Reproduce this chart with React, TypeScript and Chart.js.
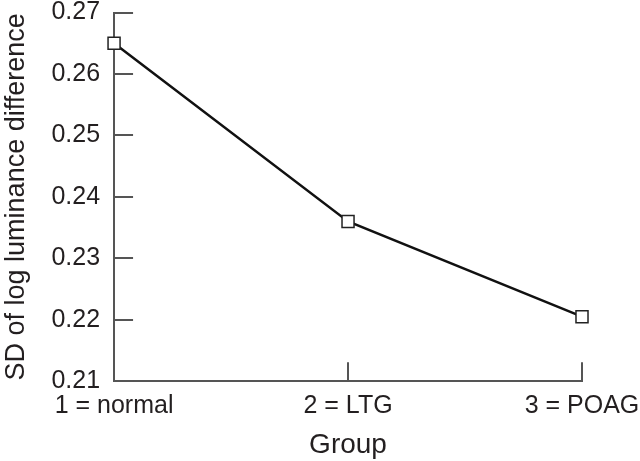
import React, { useEffect, useRef } from "react";
import { Chart, registerables } from "chart.js";

Chart.register(...registerables);

const categories = ["1 = normal", "2 = LTG", "3 = POAG"];
const sdValues = [0.265, 0.236, 0.2205];
const yMin = 0.21;
const yMax = 0.27;
const yStep = 0.01;
const yTitle = "SD of log luminance difference";
const xTitle = "Group";

const FONT = "'Liberation Sans', Arial, sans-serif";
const TEXT = "#231f20";
const AXIS = "#555555";

const innerTicks = {
  id: "innerTicks",
  afterDraw(chart: any) {
    const { ctx, chartArea, scales } = chart;
    const len = 19;
    ctx.save();
    ctx.strokeStyle = AXIS;
    ctx.lineWidth = 2;
    ctx.beginPath();
    scales.y.ticks.forEach((t: any) => {
      const py = Math.round(scales.y.getPixelForValue(t.value));
      ctx.moveTo(chartArea.left, py);
      ctx.lineTo(chartArea.left + len, py);
    });
    scales.x.ticks.forEach((_t: any, i: number) => {
      const px = Math.round(scales.x.getPixelForTick(i));
      ctx.moveTo(px, chartArea.bottom);
      ctx.lineTo(px, chartArea.bottom - len);
    });
    ctx.stroke();
    ctx.restore();
  },
};

export default function App() {
  const ref = useRef<HTMLCanvasElement | null>(null);
  useEffect(() => {
    if (!ref.current) return;
    const chart = new Chart(ref.current, {
      type: "line",
      data: {
        labels: categories,
        datasets: [
          {
            data: sdValues,
            borderColor: "#111111",
            borderWidth: 2.5,
            pointStyle: "rect",
            pointRadius: 8.5,
            pointBackgroundColor: "#ffffff",
            pointBorderColor: "#222222",
            pointBorderWidth: 1.5,
            clip: false as any,
            tension: 0,
          },
        ],
      },
      options: {
        responsive: false,
        animation: false,
        events: [],
        layout: { padding: { left: 0, right: 58, top: 0, bottom: 0 } },
        plugins: { legend: { display: false }, tooltip: { enabled: false } },
        scales: {
          x: {
            type: "category",
            offset: false,
            grid: {
              display: true,
              drawOnChartArea: false,
              drawTicks: true,
              tickLength: 10,
              color: "rgba(0,0,0,0)",
            },
            border: { display: true, color: AXIS, width: 2 },
            ticks: {
              color: TEXT,
              font: { family: FONT, size: 25, lineHeight: 1.2 },
              padding: 0,
              maxRotation: 0,
              autoSkip: false,
            },
            title: {
              display: true,
              text: xTitle,
              color: TEXT,
              font: { family: FONT, size: 28, lineHeight: 1.1 },
              padding: { top: 9, bottom: 0 },
            },
          },
          y: {
            min: yMin,
            max: yMax,
            grid: {
              display: true,
              drawOnChartArea: false,
              drawTicks: true,
              tickLength: 14,
              color: "rgba(0,0,0,0)",
            },
            border: { display: true, color: AXIS, width: 2 },
            ticks: {
              stepSize: yStep,
              color: TEXT,
              font: { family: FONT, size: 25, lineHeight: 1.0 },
              padding: 0,
              callback: (v: any) => Number(v).toFixed(2),
            },
            title: {
              display: true,
              text: yTitle,
              color: TEXT,
              font: { family: FONT, size: 27, lineHeight: 1.2 },
              padding: { top: 0, bottom: 19 },
            },
          },
        },
      },
      plugins: [innerTicks],
    });
    return () => chart.destroy();
  }, []);
  return (
    <div style={{ position: "absolute", left: 0, top: 0, width: 640, height: 461, background: "#fff" }}>
      <canvas ref={ref} width={640} height={461} style={{ display: "block" }} />
    </div>
  );
}
